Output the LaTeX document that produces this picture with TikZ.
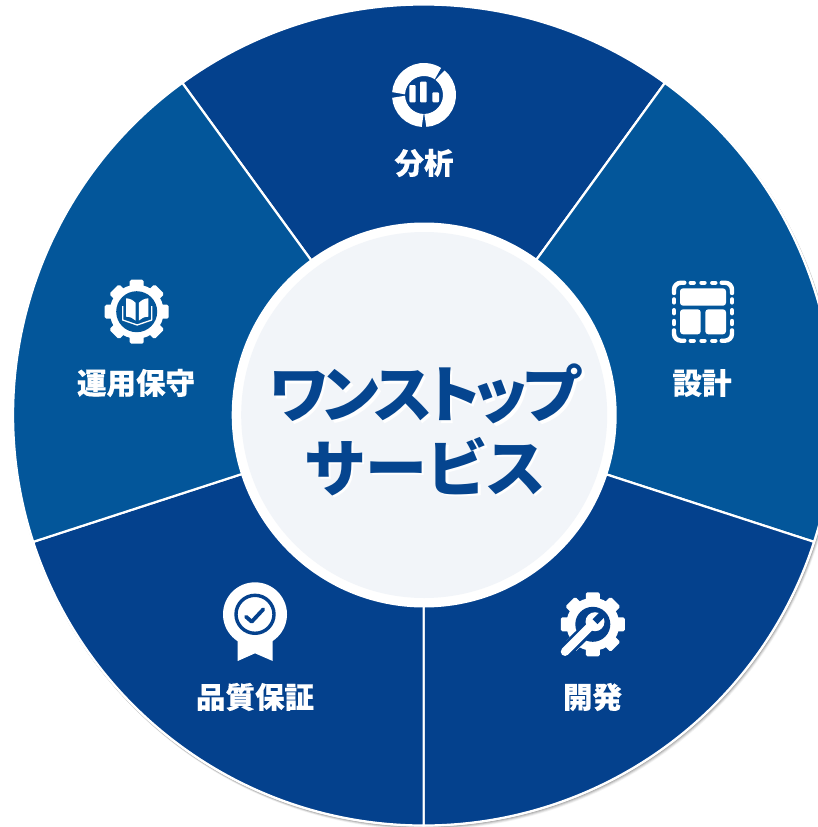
\documentclass[tikz,border=0pt]{standalone}
\usepackage{fontspec}
\newfontfamily\cjk[RawFeature=+palt]{Noto Sans CJK JP}
\newfontfamily\cjktight[RawFeature=+palt,LetterSpace=-7]{Noto Sans CJK JP}
\newfontfamily\cjkwide[RawFeature=+palt,LetterSpace=3.2]{Noto Sans CJK JP}
\newfontfamily\cjklabel[RawFeature=+palt,BoldFeatures={FakeBold=0.25}]{Noto Sans CJK JP}
\definecolor{deepblue}{HTML}{04418D}
\definecolor{midblue}{HTML}{03569A}
\definecolor{hubfill}{HTML}{F2F5F9}
\definecolor{titleblue}{HTML}{05458F}
\usetikzlibrary{calc}
\tikzset{
  sector/.style={draw=white,line width=2.2pt,line join=round},
  label/.style={text=white,font=\cjklabel\bfseries\fontsize{29.5}{31}\selectfont,inner sep=0pt},
  titleone/.style={font=\cjktight\bfseries\fontsize{62}{70}\selectfont,inner sep=0pt},
  titletwo/.style={font=\cjkwide\bfseries\fontsize{62}{70}\selectfont,inner sep=0pt},
}
\newcommand{\gearshape}[5]{% cx cy outer body toothwidth
  \begin{scope}[shift={(#1,#2)}]
    \fill[white] (0,0) circle[radius=#4pt];
    \foreach \a in {0,45,...,315}{
      \fill[white,rotate=\a,rounded corners=1.6pt] (-#5,-#3) rectangle (#5,0);
    }
  \end{scope}
}
\begin{document}
\begin{tikzpicture}[x=1pt,y=1pt,yscale=-1]
\useasboundingbox (0,0) rectangle (818,827);
\clip (0,0) rectangle (818,827);
\fill[white] (0,0) rectangle (818,827);
\coordinate (c) at (423.6,415);
\coordinate (h) at (424.2,415);
% soft rim shadow
\foreach \o/\op in {4/0.05,3/0.08,2/0.10,1/0.12}{
  \fill[black,opacity=\op] ($(c)+(\o*0.5,\o*0.8)$) circle[radius=411.5pt];
}
\fill[white] (c) circle[radius=411.5pt];
% sectors
\draw[sector,fill=deepblue] (c) -- +(-54:410.5pt) arc[start angle=-54,end angle=-126,radius=410.5pt] -- cycle;
\draw[sector,fill=midblue] (c) -- +(18:410.5pt) arc[start angle=18,end angle=-54,radius=410.5pt] -- cycle;
\draw[sector,fill=deepblue] (c) -- +(90:410.5pt) arc[start angle=90,end angle=18,radius=410.5pt] -- cycle;
\draw[sector,fill=deepblue] (c) -- +(162:410.5pt) arc[start angle=162,end angle=90,radius=410.5pt] -- cycle;
\draw[sector,fill=midblue] (c) -- +(234:410.5pt) arc[start angle=234,end angle=162,radius=410.5pt] -- cycle;
% hub
\node[circle,fill=white,minimum size=385pt,inner sep=0pt] (hubring) at (h) {};
\node[circle,fill=hubfill,minimum size=366pt,inner sep=0pt] (hub) at (h) {};
% title
\node[titleone,text=white] (t1s) at (427.5,396.5) {ワンストップ};
\node[titletwo,text=white] (t2s) at (427.5,469) {サービス};
\node[titleone,text=titleblue] (t1) at (425,394) {ワンストップ};
\node[titletwo,text=titleblue] (t2) at (425,466.5) {サービス};
% labels
\node[label] (l1) at (424,163) {分析};
\node[label] (l2) at (702,383) {設計};
\node[label] (l3) at (592.5,697) {開発};
\node[label] (l4) at (255,697) {品質保証};
\node[label] (l5) at (136,383) {運用保守};
% icon: analysis
\begin{scope}[shift={(424,95)}]
  \foreach \s/\e in {-176/-57,-51/87,93/176}{
    \draw[white,line width=13pt] (\s:25.5pt) arc[start angle=\s,end angle=\e,radius=25.5pt];
  }
\end{scope}
\fill[white,rounded corners=1pt] (409.3,85) rectangle (415.7,102.3);
\fill[white,rounded corners=1pt] (420,81.7) rectangle (426.7,102.3);
\fill[white,rounded corners=1pt] (432.3,92.3) rectangle (439,102.3);
% icon: design
\begin{scope}[shift={(703,311.7)}]
  \foreach \a in {0,90,180,270}{
    \begin{scope}[rotate=\a]
      \draw[white,line width=4.4pt,line cap=round,rounded corners=7pt] (18.7,-29) -- (29,-29) -- (29,-18.7);
      \foreach \x in {-10.8,0,10.8}{
        \draw[white,line width=4.4pt,line cap=round] (\x-1.5,-29) -- (\x+1.5,-29);
      }
    \end{scope}
  }
\end{scope}
\fill[white,rounded corners=3pt] (680,288.3) rectangle (726,305.7);
\fill[white,rounded corners=3pt] (680,309.3) rectangle (700.7,334.3);
\fill[white,rounded corners=3pt] (705.3,309.3) rectangle (726,334.3);
% icon: development
\gearshape{592.8}{624.3}{32}{26.5}{7}
\fill[deepblue] (592.8,624.3) circle[radius=17.5pt];
\draw[deepblue,line width=14pt,line cap=round] (565,651.7) -- (590,627);
\draw[white,line width=8.5pt,line cap=round] (565,651.7) -- (592,624.5);
\fill[white] (595,621.7) circle[radius=9.5pt];
\fill[deepblue,shift={(595,621.7)},rotate=-45] (0,-3.4) rectangle (13,3.4);
% icon: quality
\fill[white] (237.7,630) -- (237.7,661) -- (255,653.3) -- (272.7,661) -- (272.7,630) -- cycle;
\fill[white] (255,614.3) circle[radius=32pt];
\draw[deepblue,line width=3.4pt] (255,614.3) circle[radius=19pt];
\draw[deepblue,line width=3.8pt,line cap=round,line join=round] (246,616.7) -- (251.7,621.7) -- (263.3,609.3);
% icon: maintenance
\gearshape{136.7}{311.7}{32}{27}{7}
\fill[midblue] (136.7,311.7) circle[radius=20.5pt];
\draw[white,line width=0.5pt,opacity=0.7] (136.7,311.7) circle[radius=22pt];
\fill[white] (126.2,298.3) .. controls (130,298.5) and (133,300) .. (135.6,302.8) -- (135.6,320.5) .. controls (133,318) and (130,316.8) .. (126.2,316.7) -- cycle;
\fill[white] (148.3,298.3) .. controls (144.5,298.5) and (141.5,300) .. (138.9,302.8) -- (138.9,320.5) .. controls (141.5,318) and (144.5,316.8) .. (148.3,316.7) -- cycle;
\draw[white,line width=1.3pt,line join=round] (122.7,306) -- (122.7,320) -- (137.2,325) -- (151.7,320) -- (151.7,306);
\end{tikzpicture}
\end{document}
